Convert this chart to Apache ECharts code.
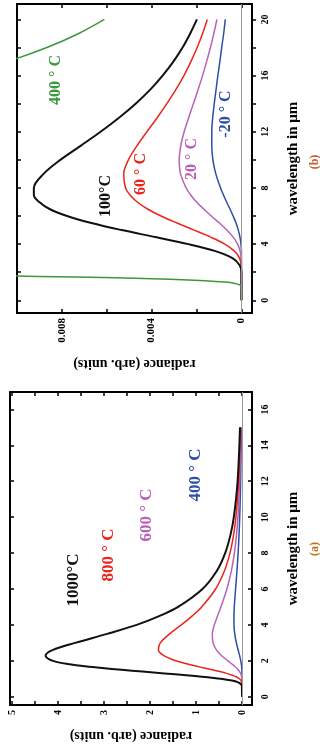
<!DOCTYPE html>
<html><head><meta charset="utf-8">
<script src="https://cdn.jsdelivr.net/npm/echarts@6/dist/echarts.min.js"></script>
<style>html,body{margin:0;padding:0;background:#fff}#c{width:320px;height:751px}</style>
</head><body><div id="c"></div>
<script>
// ---------- Panel (a) data: wavelength (µm) and radiance (arb. units) ----------
const wlA = [0, 0.6, 0.7, 0.8, 0.9, 1.0, 1.1, 1.2, 1.3, 1.4, 1.5, 1.6, 1.7, 1.8, 2.0, 2.3, 2.6, 3.0, 3.5, 4.0, 4.5, 5.0, 6.0, 7.0, 8.0, 9.0, 10, 12, 15];
const a1000 = [0, 0.003, 0.022, 0.083, 0.222, 0.461, 0.799, 1.217, 1.683, 2.162, 2.62, 3.04, 3.41, 3.71, 4.11, 4.27, 4.12, 3.63, 2.93, 2.29, 1.79, 1.39, 0.86, 0.55, 0.366, 0.252, 0.178, 0.096, 0.044];
const a800  = [0, 0, 0.001, 0.006, 0.021, 0.056, 0.118, 0.210, 0.333, 0.480, 0.645, 0.816, 0.986, 1.149, 1.436, 1.708, 1.818, 1.778, 1.575, 1.320, 1.082, 0.877, 0.574, 0.383, 0.262, 0.184, 0.132, 0.073, 0.034];
const a600  = [0, 0, 0, 0, 0.001, 0.003, 0.007, 0.016, 0.031, 0.054, 0.083, 0.119, 0.162, 0.208, 0.308, 0.448, 0.554, 0.630, 0.646, 0.601, 0.532, 0.459, 0.329, 0.233, 0.166, 0.120, 0.089, 0.051, 0.025];
const a400  = [0, 0, 0, 0, 0, 0, 0, 0, 0.001, 0.002, 0.003, 0.006, 0.009, 0.014, 0.027, 0.053, 0.084, 0.123, 0.158, 0.175, 0.176, 0.168, 0.140, 0.110, 0.085, 0.065, 0.050, 0.030, 0.016];
const radTicksA = [0, 0.5, 1, 1.5, 2, 2.5, 3, 3.5, 4, 4.5, 5];
const radLabelsA = [0, 1, 2, 3, 4, 5];
const wlTicksA = [0, 2, 4, 6, 8, 10, 12, 14, 16];
const wlLabelsA = [0, 2, 4, 6, 8, 10, 12, 14, 16];

// ---------- Panel (b) data ----------
const wlB = [0, 1.0, 1.1, 1.2, 1.3, 1.4, 1.5, 1.6, 1.7, 1.8, 2.0, 2.5, 3, 3.5, 4, 4.5, 5, 5.5, 6, 6.5, 7, 7.5, 8, 9, 10, 11, 12, 13, 14, 15, 16, 17, 18, 19, 20];
const b400 = [0, 0.00002, 0.00008, 0.00028, 0.00072, 0.00162, 0.00317, 0.0056, 0.00908, 0.0137, 0.0265, 0.074, 0.123, 0.158, 0.175, 0.176, 0.168, 0.155, 0.140, 0.125, 0.110, 0.0964, 0.0845, 0.0648, 0.050, 0.0387, 0.0304, 0.024, 0.0192, 0.0156, 0.01268, 0.01043, 0.00866, 0.00724, 0.0061];
const b100 = [0, 0, 0, 0, 0, 0, 0, 0, 0, 0, 0, 0.00008, 0.0004, 0.00116, 0.00236, 0.00383, 0.00533, 0.00668, 0.00776, 0.00854, 0.009, 0.00924, 0.00924, 0.00881, 0.00806, 0.00716, 0.00627, 0.00545, 0.00471, 0.00406, 0.00351, 0.00303, 0.00262, 0.00228, 0.00198];
const b60  = [0, 0, 0, 0, 0, 0, 0, 0, 0, 0, 0, 0.00001, 0.000085, 0.00031, 0.00074, 0.00137, 0.00211, 0.00287, 0.00358, 0.00418, 0.00464, 0.00496, 0.00516, 0.00524, 0.00503, 0.00465, 0.00421, 0.00375, 0.00332, 0.00292, 0.00256, 0.00225, 0.00197, 0.00173, 0.00152];
const b20  = [0, 0, 0, 0, 0, 0, 0, 0, 0, 0, 0, 0, 0.00001, 0.00006, 0.00017, 0.00037, 0.00065, 0.00098, 0.00134, 0.00168, 0.002, 0.00226, 0.00246, 0.00271, 0.00277, 0.0027, 0.00255, 0.00235, 0.00214, 0.00193, 0.00173, 0.00155, 0.00138, 0.00123, 0.00109];
const bM20 = [0, 0, 0, 0, 0, 0, 0, 0, 0, 0, 0, 0, 0, 0, 0.00002, 0.000066, 0.00014, 0.00024, 0.00037, 0.00051, 0.00066, 0.0008, 0.00093, 0.00114, 0.00127, 0.00132, 0.00132, 0.00128, 0.00121, 0.00113, 0.00105, 0.00096, 0.00088, 0.00079, 0.00072];
const radTicksB = [0, 0.002, 0.004, 0.006, 0.008];
const radLabelsB = [0, 0.004, 0.008];
const wlTicksB = [0, 2, 4, 6, 8, 10, 12, 14, 16, 18, 20];
const wlLabelsB = [0, 4, 8, 12, 16, 20];

const seriesNamesA = ['1000°C', '800 ° C', '600 ° C', '400 ° C'];
const seriesNamesB = ['400 ° C', '100°C', '60 ° C', '20 ° C', '-20 ° C'];

const F = 'Liberation Serif';
const BLACK = '#111111', RED = '#e8261c', PURPLE = '#b862b8', BLUE = '#2c4fa3', GREEN = '#3b983b';

const frameLine = {show: true, onZero: false, lineStyle: {color: '#000', width: 2}};
const txt = (size) => ({fontFamily: F, fontWeight: 'bold', fontSize: size, color: '#000'});

function xAx(grid, pos, min, max, ticks, labels, name, gap, lblSize) {
  return {
    gridIndex: grid, type: 'value', inverse: true, min: min, max: max, position: pos,
    axisLine: frameLine,
    axisTick: {show: true, inside: true, length: 4, customValues: ticks, lineStyle: {color: '#000', width: 1.5}},
    axisLabel: labels ? Object.assign({show: true, rotate: 90, margin: 5, customValues: labels, formatter: v => String(v)}, txt(lblSize)) : {show: false},
    splitLine: {show: false},
    name: name || '', nameLocation: 'middle', nameRotate: 180, nameGap: gap || 0,
    nameTextStyle: txt(14)
  };
}
function yAx(grid, pos, min, max, ticks, labels, inside, name) {
  return {
    gridIndex: grid, type: 'value', min: min, max: max, position: pos,
    axisLine: frameLine,
    axisTick: {show: true, inside: inside, length: 4, customValues: ticks, lineStyle: {color: '#000', width: 1.5}},
    axisLabel: labels ? Object.assign({show: true, rotate: 90, margin: 8, customValues: labels, formatter: v => String(v)}, txt(10)) : {show: false},
    splitLine: {show: false},
    name: name || '', nameLocation: 'middle', nameRotate: 90, nameGap: 34,
    nameTextStyle: txt(15)
  };
}
function line(xi, yi, wl, vals, color, width, zero) {
  const s = {
    type: 'line', xAxisIndex: xi, yAxisIndex: yi,
    data: wl.map((w, i) => [vals[i], w]),
    symbol: 'none', showSymbol: false, smooth: 0.35,
    lineStyle: {color: color, width: width, join: 'round'}, clip: true, z: 3
  };
  if (zero) s.markLine = {silent: true, symbol: 'none', label: {show: false},
    lineStyle: {color: '#9a9a9a', width: 1, type: 'solid'}, data: [{xAxis: 0}]};
  return s;
}
function lab(x, y, text, color, size) {
  return {type: 'text', x: x, y: y, rotation: Math.PI / 2, silent: true,
    style: {text: text, fill: color, font: 'bold ' + size + 'px "' + F + '"', align: 'center', verticalAlign: 'middle'}};
}

const option = {
  animation: false,
  backgroundColor: '#fff',
  grid: [
    {left: 17, top: 4, width: 235, height: 309, outerBoundsMode: 'none'},
    {left: 10, top: 392, width: 242, height: 313, outerBoundsMode: 'none'}
  ],
  xAxis: [
    xAx(0, 'bottom', -0.00047, 0.00999, radTicksB, radLabelsB, 'radiance (arb. units)', 44, 11),
    xAx(0, 'top', -0.00047, 0.00999, radTicksB, null),
    xAx(1, 'bottom', -0.217, 5.044, radTicksA, radLabelsA, 'radiance (arb. units)', 24, 10),
    xAx(1, 'top', -0.217, 5.044, radTicksA, null)
  ],
  yAxis: [
    yAx(0, 'right', -0.905, 21.1, wlTicksB, wlLabelsB, false, 'wavelength in μm'),
    yAx(0, 'left', -0.905, 21.1, wlTicksB, null, true),
    yAx(1, 'right', -0.46, 16.97, wlTicksA, wlLabelsA, true, 'wavelength in μm'),
    yAx(1, 'left', -0.46, 16.97, wlTicksA, null, true)
  ],
  series: [
    line(0, 0, wlB, bM20, BLUE, 1.5, true),
    line(0, 0, wlB, b20, PURPLE, 1.5),
    line(0, 0, wlB, b60, RED, 1.5),
    line(0, 0, wlB, b100, BLACK, 2),
    line(0, 0, wlB, b400, GREEN, 1.5),
    line(2, 2, wlA, a400, BLUE, 1.5, true),
    line(2, 2, wlA, a600, PURPLE, 1.5),
    line(2, 2, wlA, a800, RED, 1.5),
    line(2, 2, wlA, a1000, BLACK, 2)
  ],
  graphic: [
    lab(56, 80, seriesNamesB[0], GREEN, 16),
    lab(106, 196, seriesNamesB[1], BLACK, 16),
    lab(141, 174, seriesNamesB[2], RED, 16),
    lab(192, 159, seriesNamesB[3], PURPLE, 16),
    lab(226, 114, seriesNamesB[4], BLUE, 16),
    lab(74, 580, seriesNamesA[0], BLACK, 17),
    lab(109, 555, seriesNamesA[1], RED, 17),
    lab(147, 515, seriesNamesA[2], PURPLE, 17),
    lab(196, 475, seriesNamesA[3], BLUE, 17),
    lab(315, 162, '(b)', '#c0602a', 12),
    lab(315, 549, '(a)', '#c8701e', 12)
  ]
};
const chart = echarts.init(document.getElementById('c'));
chart.setOption(option);
</script>
</body></html>
